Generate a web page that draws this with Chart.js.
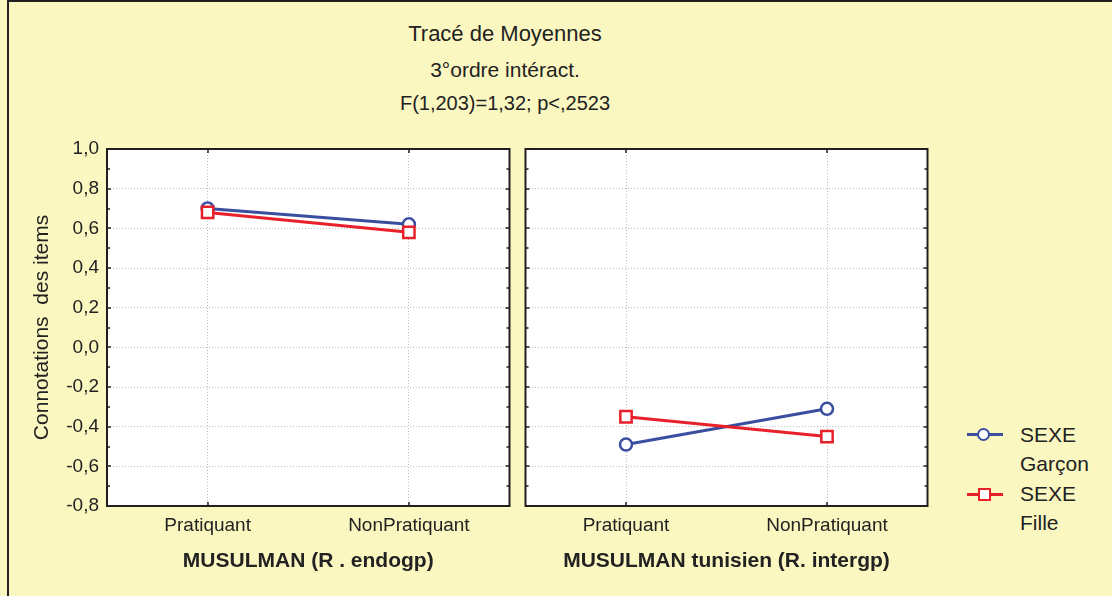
<!DOCTYPE html>
<html>
<head>
<meta charset="utf-8">
<script src="https://cdn.jsdelivr.net/npm/chart.js@4.4.1/dist/chart.umd.min.js"></script>
<style>
  body { margin: 0; background: #fbf7c1; }
  #page { position: relative; width: 1112px; height: 596px; background: #fbf7c1; overflow: hidden;
          font-family: "Liberation Sans", Arial, sans-serif; color: #222; }
  #frameL { position: absolute; left: 7px; top: 0; width: 2px; height: 596px; background: #231f20; }
  #frameT { position: absolute; left: 7px; top: 0; width: 1105px; height: 2px; background: #231f20; }
  .ttl { position: absolute; left: 305px; width: 400px; text-align: center; white-space: nowrap; }
  canvas { position: absolute; top: 0; }
  .leg { position: absolute; font-size: 21px; line-height: 29px; }
  .legline { position: absolute; height: 3px; width: 36px; }
</style>
</head>
<body>
<div id="page">
  <div id="frameL"></div>
  <div id="frameT"></div>
  <div class="ttl" style="top:21px;font-size:22px;">Tracé de Moyennes</div>
  <div class="ttl" style="top:58px;font-size:21px;">3°ordre intéract.</div>
  <div class="ttl" style="top:92px;font-size:20px;">F(1,203)=1,32; p&lt;,2523</div>
  <canvas id="c1" width="520" height="596" style="left:0;width:520px;height:596px;"></canvas>
  <canvas id="c2" width="423" height="596" style="left:515px;width:423px;height:596px;"></canvas>

  <div class="legline" style="left:967px;top:433px;background:#3a4ea0;"></div>
  <div style="position:absolute;left:977px;top:428px;width:9px;height:9px;border:2.5px solid #3a4ea0;border-radius:50%;background:#fff;"></div>
  <div class="leg" style="left:1020px;top:420px;">SEXE<br>Garçon</div>
  <div class="legline" style="left:967px;top:493px;background:#e8202a;"></div>
  <div style="position:absolute;left:978px;top:488px;width:9px;height:9px;border:2.5px solid #e8202a;background:#fff;"></div>
  <div class="leg" style="left:1020px;top:479px;">SEXE<br>Fille</div>
</div>

<script>
// categories and means
const categories = ['Pratiquant', 'NonPratiquant'];
const seriesNames = ['SEXE Garçon', 'SEXE Fille'];

// panel 1: MUSULMAN (R . endogp)
const endoGarcon = [0.70, 0.62];
const endoFille = [0.68, 0.58];

// panel 2: MUSULMAN tunisien (R. intergp)
const interGarcon = [-0.49, -0.31];
const interFille = [-0.35, -0.45];

const yTicks = [-0.8, -0.6, -0.4, -0.2, 0.0, 0.2, 0.4, 0.6, 0.8, 1.0];

const blue = '#3a4ea0';
const red = '#e8202a';

// white plot background, box around the plot area + small inward tick marks
const framePlugin = {
    id: 'frame',
    beforeDraw(chart) {
        const { ctx, chartArea: a } = chart;
        ctx.save();
        ctx.fillStyle = '#fff';
        ctx.fillRect(a.left, a.top, a.right - a.left, a.bottom - a.top);
        ctx.restore();
    },
    afterDraw(chart) {
        const { ctx, chartArea: a, scales } = chart;
        ctx.save();
        ctx.strokeStyle = '#231f20';
        ctx.lineWidth = 2;
        ctx.strokeRect(a.left, a.top, a.right - a.left, a.bottom - a.top);
        ctx.lineWidth = 1.5;
        for (let v = -8; v <= 10; v++) {
            const y = Math.round(scales.y.getPixelForValue(v / 10));
            const len = v % 2 === 0 ? 4 : 3;
            ctx.beginPath();
            ctx.moveTo(a.left, y); ctx.lineTo(a.left + len, y);
            ctx.moveTo(a.right, y); ctx.lineTo(a.right - len, y);
            ctx.stroke();
        }
        categories.forEach((c, i) => {
            const x = Math.round(scales.x.getPixelForValue(i));
            ctx.beginPath();
            ctx.moveTo(x, a.top); ctx.lineTo(x, a.top + 4);
            ctx.moveTo(x, a.bottom); ctx.lineTo(x, a.bottom - 4);
            ctx.stroke();
        });
        ctx.restore();
    }
};

function makeDatasets(g, f) {
    return [{
        label: seriesNames[0],
        data: g,
        order: 1,
        borderColor: blue,
        backgroundColor: '#fff',
        borderWidth: 3,
        pointStyle: 'circle',
        pointRadius: 6,
        pointBorderWidth: 2.5,
        pointBackgroundColor: '#fff'
    }, {
        label: seriesNames[1],
        data: f,
        order: 0,
        borderColor: red,
        backgroundColor: '#fff',
        borderWidth: 3,
        pointStyle: 'rect',
        pointRadius: 8,
        pointBorderWidth: 2.5,
        pointBackgroundColor: '#fff'
    }];
}

function makeConfig(g, f, xTitle, showY, yWidth, padding) {
    return {
        type: 'line',
        data: { labels: categories, datasets: makeDatasets(g, f) },
        options: {
            responsive: false,
            animation: false,
            layout: { padding },
            plugins: { legend: { display: false }, tooltip: { enabled: false } },
            scales: {
                x: {
                    offset: true,
                    grid: { color: '#bdbdbd', lineWidth: 1, drawTicks: false },
                    border: { display: false, dash: [1, 2] },
                    ticks: { color: '#222', font: { family: 'Liberation Sans', size: 19 }, padding: 8 },
                    title: {
                        display: true, text: xTitle, color: '#222',
                        font: { family: 'Liberation Sans', size: 21, weight: 'bold' },
                        padding: { top: 4, bottom: 10 }
                    },
                    afterFit(s) { s.height = 596 - 506 - padding.bottom; }
                },
                y: {
                    min: -0.8, max: 1.0,
                    afterBuildTicks(s) { s.ticks = yTicks.map(v => ({ value: v })); },
                    grid: { color: '#bdbdbd', lineWidth: 1, drawTicks: false },
                    border: { display: false, dash: [1, 2] },
                    ticks: {
                        display: showY, color: '#222', padding: 8,
                        font: { family: 'Liberation Sans', size: 19 },
                        callback: v => v.toFixed(1).replace('.', ',')
                    },
                    title: {
                        display: showY, text: 'Connotations  des items', color: '#222',
                        font: { family: 'Liberation Sans', size: 21 },
                        padding: { top: 0, bottom: 0 }
                    },
                    afterFit(s) { s.width = yWidth; }
                }
            }
        },
        plugins: [framePlugin]
    };
}

Chart.defaults.font.family = 'Liberation Sans';

const cfg1 = makeConfig(endoGarcon, endoFille, 'MUSULMAN (R . endogp)', true, 77,
    { top: 149, right: 10, bottom: 12, left: 30 });
const cfg2 = makeConfig(interGarcon, interFille, 'MUSULMAN tunisien (R. intergp)', false, 10,
    { top: 149, right: 10, bottom: 12, left: 0 });

const chart1 = new Chart(document.getElementById('c1'), cfg1);
const chart2 = new Chart(document.getElementById('c2'), cfg2);
</script>
</body>
</html>
